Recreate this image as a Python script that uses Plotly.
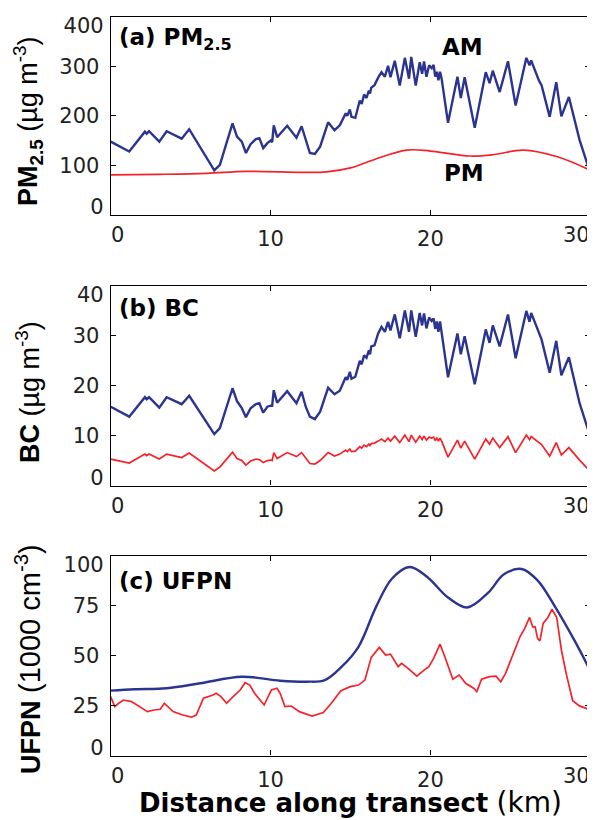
import plotly.graph_objects as go

# ---------------- data ----------------
transect_km = [0, 1.16, 2.14, 2.25, 2.4, 3.04, 3.5, 4.44, 4.91, 6.48, 6.83, 7.62, 7.9, 8.2, 8.46, 8.75,
               9.08, 9.3, 9.54, 9.8, 10.0, 10.1, 10.2, 10.41, 11.04, 11.62, 11.94, 12.2, 12.46, 12.77,
               13.1, 13.6, 14.0, 14.33, 14.7, 14.8, 14.96, 15.06, 15.3, 15.58, 15.7, 15.85, 16.0, 16.15,
               16.22, 16.3, 16.5, 16.73, 16.94, 17.15, 17.35, 17.5, 17.77, 18.08, 18.4, 18.66, 18.8,
               19.08, 19.33, 19.48, 19.6, 19.75, 19.92, 20.08, 20.2, 20.3, 20.4, 20.5, 20.6, 20.7, 21.1,
               21.69, 21.9, 22.14, 22.77, 23.46, 23.7, 23.9, 24.33, 24.85, 25.33, 26.0, 26.2, 26.3,
               26.79, 26.95, 27.46, 27.87, 28.19, 28.66, 29.33, 30.0]

pm25_am = [148, 128, 168, 164, 169, 148, 169, 154, 173, 90, 101, 185, 158, 148, 125, 143,
           153, 155, 135, 145, 150, 147, 181, 157, 180, 156, 179, 151, 125, 123,
           138, 187, 171, 181, 205, 200, 213, 198, 196, 231, 224, 243, 236, 251,
           245, 257, 262, 277, 288, 279, 301, 278, 311, 261, 317, 275, 319,
           261, 308, 285, 310, 279, 302, 296, 303, 279, 289, 272, 289, 275, 186,
           279, 236, 278, 176, 288, 266, 291, 248, 310, 221, 317, 302, 312,
           271, 262, 198, 268, 199, 238, 151, 85]

pm25_pm_km = [0, 3, 6, 8.5, 12, 13.5, 15, 16.5, 18.5, 20, 22.5, 24, 25.8, 28, 30]
pm25_pm = [81, 82, 84, 88, 86, 87, 95, 112, 131, 129, 119, 122, 131, 117, 90]

bc_am = [15.8, 13.8, 17.7, 17.3, 17.7, 15.6, 17.7, 16.3, 18.0, 10.3, 11.5, 19.5, 16.9, 15.5, 13.7, 15.5,
         16.3, 16.5, 14.6, 15.8, 16.0, 16.0, 19.1, 16.6, 18.9, 16.5, 18.8, 15.8, 13.8, 13.3,
         14.8, 19.6, 18.3, 19.0, 21.7, 21.2, 22.8, 21.4, 21.8, 25.0, 24.3, 26.1, 25.6, 27.1,
         26.3, 27.9, 28.1, 30.5, 31.8, 30.8, 32.8, 31.1, 34.3, 29.5, 35.1, 30.8, 35.1,
         29.8, 34.6, 32.1, 34.5, 31.5, 33.7, 33.0, 33.5, 31.4, 32.9, 30.8, 32.9, 30.8, 21.7,
         30.5, 26.3, 29.9, 20.3, 31.3, 28.6, 32.1, 27.9, 34.3, 25.5, 35.0, 32.8, 34.6,
         30.6, 29.3, 22.6, 29.0, 22.1, 25.7, 16.5, 9.8]

bc_pm = [5.3, 4.5, 6.3, 6.0, 6.3, 5.3, 6.3, 5.6, 6.5, 2.9, 3.7, 6.7, 5.4, 5.0, 4.1, 4.9,
         5.3, 5.2, 4.6, 5.0, 5.1, 5.0, 6.6, 5.4, 6.6, 5.8, 6.6, 5.5, 4.4, 4.3,
         5.0, 6.6, 5.9, 6.3, 7.1, 6.8, 7.3, 6.8, 6.9, 7.8, 7.5, 8.1, 7.8, 8.3,
         8.0, 8.4, 8.5, 8.9, 9.3, 8.8, 9.5, 8.9, 9.9, 8.6, 10.1, 8.8, 10.1,
         8.7, 9.9, 9.2, 9.9, 9.1, 9.7, 9.5, 9.7, 9.0, 9.5, 8.9, 9.5, 8.9, 5.7,
         9.1, 7.5, 8.9, 5.3, 9.3, 8.3, 9.5, 7.6, 9.8, 6.6, 10.1, 9.2, 9.8,
         8.6, 8.2, 5.9, 8.6, 6.1, 7.6, 5.1, 2.8]

ufpn_am_km = [0, 1.5, 3.5, 5.6, 8.2, 10.6, 12.3, 13.4, 14.45, 15.5, 16.6, 17.6, 18.7, 19.8, 21.1,
              22.3, 23.6, 24.6, 25.7, 26.7, 27.8, 29.0, 30.0]
ufpn_am = [32.5, 33.2, 33.7, 36.2, 39.5, 37.5, 37.0, 37.8, 44.5, 54.5, 74.5, 88.7, 94.5, 89.5, 79.2,
           74.2, 81.5, 90.8, 93.5, 87.8, 74.5, 57.8, 42.5]

ufpn_pm_km = [0, 0.25, 0.5, 0.8, 1.3, 1.83, 2.3, 2.7, 3.1, 3.35, 3.6, 3.9, 4.5, 5.06, 5.35, 5.8, 6.4,
              6.6, 6.9, 7.25, 7.66, 8.1, 8.4, 8.7, 9.0, 9.33, 9.6, 9.8, 10.05, 10.4, 10.6, 10.9,
              11.3, 11.8, 12.6, 13.3, 13.8, 14.4, 15.0, 15.5, 15.9, 16.3, 16.8, 17.2, 17.5, 17.98,
              18.2, 18.6, 19.15, 19.6, 19.9, 20.2, 20.6, 20.9, 21.4, 21.8, 22.2, 22.7, 22.9, 23.2,
              23.7, 24.1, 24.4, 24.7, 25.1, 25.6, 25.9, 26.2, 26.4, 26.55, 26.7, 26.85, 27.05,
              27.35, 27.6, 27.9, 28.2, 28.5, 28.9, 29.3, 30.0]
ufpn_pm = [29.5, 24.5, 26.2, 27.8, 27.0, 24.5, 22.0, 22.8, 23.2, 26.2, 24.5, 22.0, 20.3, 19.2, 20.3,
           28.7, 30.3, 31.2, 29.5, 26.2, 29.5, 32.8, 36.5, 35.3, 31.2, 27.8, 25.3, 28.7, 32.8,
           33.7, 31.2, 24.5, 24.8, 22.0, 19.8, 21.5, 26.2, 32.5, 34.5, 35.3, 37.8, 49.2, 54.2,
           50.3, 50.8, 44.5, 46.2, 43.7, 39.8, 42.8, 44.5, 48.7, 55.8, 49.5, 38.2, 40.3, 36.2,
           33.7, 32.0, 38.2, 39.5, 39.8, 37.0, 41.2, 49.5, 59.5, 63.7, 69.2, 64.5, 64.5, 58.7,
           57.5, 66.2, 69.2, 73.3, 69.2, 52.5, 40.8, 27.5, 25.0, 22.8]

x_ticks = [0, 10, 20, 30]
pm25_ticks = [0, 100, 200, 300, 400]
bc_ticks = [0, 10, 20, 30, 40]
ufpn_ticks = [0, 25, 50, 75, 100]

# ---------------- style ----------------
# the page body adds an 8 px offset, so the figure is drawn 8 px smaller and
# all pixel positions (measured on the 595x820 reference) are shifted by 8 px
OFF = 8
W, H = 595 - OFF, 820 - OFF
BLUE = "#2b3590"
RED = "#f5222a"
TICKFONT = dict(family="DejaVu Sans", size=21, color="#222222")

X_LEFT_PX, X_RIGHT_PX = 110.7, 590.3


def px_x(p):
    return (p - OFF) / W


def px_y(p):
    return 1 - (p - OFF) / H


X_DOM = [px_x(X_LEFT_PX), px_x(X_RIGHT_PX)]
Y_DOMS = [[px_y(215), px_y(16.7)], [px_y(485.5), px_y(286)], [px_y(755.5), px_y(556)]]
PX_PER_KM = (X_RIGHT_PX - X_LEFT_PX) / (x_ticks[-1] - x_ticks[0])

fig = go.Figure()

fig.add_trace(go.Scatter(x=transect_km, y=pm25_am, mode="lines", line=dict(color=BLUE, width=2.4),
                         xaxis="x", yaxis="y", showlegend=False))
fig.add_trace(go.Scatter(x=pm25_pm_km, y=pm25_pm, mode="lines", line=dict(color=RED, width=1.7, shape="spline"),
                         xaxis="x", yaxis="y", showlegend=False))
fig.add_trace(go.Scatter(x=transect_km, y=bc_am, mode="lines", line=dict(color=BLUE, width=2.4),
                         xaxis="x2", yaxis="y2", showlegend=False))
fig.add_trace(go.Scatter(x=transect_km, y=bc_pm, mode="lines", line=dict(color=RED, width=1.7),
                         xaxis="x2", yaxis="y2", showlegend=False))
fig.add_trace(go.Scatter(x=ufpn_am_km, y=ufpn_am, mode="lines", line=dict(color=BLUE, width=2.4, shape="spline"),
                         xaxis="x3", yaxis="y3", showlegend=False))
fig.add_trace(go.Scatter(x=ufpn_pm_km, y=ufpn_pm, mode="lines", line=dict(color=RED, width=1.7),
                         xaxis="x3", yaxis="y3", showlegend=False))

common_axis = dict(showline=True, linecolor="black", linewidth=1.2, mirror="ticks", ticks="inside",
                   ticklen=5, tickwidth=1, tickcolor="black", showgrid=False, zeroline=False,
                   tickfont=TICKFONT, automargin=False, ticklabeloverflow="allow")
# label-only overlay axes: the end labels are nudged inward like in the reference
label_axis = dict(showline=False, ticks="", showgrid=False, zeroline=False, tickfont=TICKFONT,
                  automargin=False, ticklabeloverflow="allow")

layout = dict(width=W, height=H, margin=dict(l=0, r=0, t=0, b=0, autoexpand=False),
              paper_bgcolor="white", plot_bgcolor="white", showlegend=False)


def anchor_trace(xname, yname, xv, yv):
    # invisible point so that the overlay axis gets a subplot and is drawn
    return go.Scatter(x=[xv], y=[yv], xaxis=xname, yaxis=yname, mode="markers",
                      marker=dict(opacity=0, size=1), hoverinfo="skip", showlegend=False)


yticks_all = [pm25_ticks, bc_ticks, ufpn_ticks]
extra = 4
for i in range(3):
    sfx = "" if i == 0 else str(i + 1)
    xa, ya = "x" + sfx, "y" + sfx
    yt = yticks_all[i]
    xr, yr = [x_ticks[0], x_ticks[-1]], [yt[0], yt[-1]]
    layout["xaxis" + sfx] = dict(common_axis, domain=X_DOM, anchor=ya, range=xr,
                                 tickvals=x_ticks[1:-1], ticklabelstandoff=5)
    layout["yaxis" + sfx] = dict(common_axis, domain=Y_DOMS[i], anchor=xa, range=yr,
                                 tickvals=yt[1:-1], ticklabelstandoff=6)
    # end labels of the distance axis: nudge by offsetting the overlay axis range
    for val, shift_px in [(x_ticks[0], 7), (x_ticks[-1], -14)]:
        d = shift_px / PX_PER_KM
        layout[f"xaxis{extra}"] = dict(label_axis, overlaying=xa, anchor=ya, side="bottom", domain=X_DOM,
                                       range=[xr[0] - d, xr[1] - d], tickvals=[val], ticklabelstandoff=5)
        fig.add_trace(anchor_trace(f"x{extra}", ya, val, yr[0]))
        extra += 1
    for val, shift in [(yt[0], -8), (yt[-1], 9)]:
        layout[f"yaxis{extra}"] = dict(label_axis, overlaying=ya, anchor=xa, side="left", domain=Y_DOMS[i],
                                       range=yr, tickvals=[val], ticklabelshift=shift, ticklabelstandoff=6)
        fig.add_trace(anchor_trace(xa, f"y{extra}", xr[0], val))
        extra += 1

fig.update_layout(**layout)

BOLD = "DejaVu Sans"
anns = [
    # panel labels
    dict(text="<b>(a) PM<sub>2.5</sub></b>", x=px_x(117), y=px_y(39), xanchor="left", yanchor="middle",
         font=dict(family=BOLD, size=23, color="black")),
    dict(text="<b>(b) BC</b>", x=px_x(117), y=px_y(308), xanchor="left", yanchor="middle",
         font=dict(family=BOLD, size=23, color="black")),
    dict(text="<b>(c) UFPN</b>", x=px_x(117), y=px_y(581), xanchor="left", yanchor="middle",
         font=dict(family=BOLD, size=23, color="black")),
    # AM / PM
    dict(text="<b>AM</b>", x=px_x(462), y=px_y(47), xanchor="center", yanchor="middle",
         font=dict(family=BOLD, size=23, color="black")),
    dict(text="<b>PM</b>", x=px_x(464), y=px_y(173), xanchor="center", yanchor="middle",
         font=dict(family=BOLD, size=23, color="black")),
    # y titles
    dict(text="<b>PM<sub>2.5</sub></b> (µg m<sup>-3</sup>)", x=px_x(28), y=px_y(121), textangle=-90,
         xanchor="center", yanchor="middle", font=dict(family="Liberation Sans", size=27, color="black")),
    dict(text="<b>BC</b> (µg m<sup>-3</sup>)", x=px_x(28), y=px_y(392), textangle=-90,
         xanchor="center", yanchor="middle", font=dict(family="Liberation Sans", size=27, color="black")),
    dict(text="<b>UFPN</b> <span style='font-size:29px'>(1000 cm<sup>-3</sup>)</span>", x=px_x(28),
         y=px_y(659), textangle=-90, xanchor="center", yanchor="middle",
         font=dict(family="Liberation Sans", size=27, color="black")),
    # x title
    dict(text="<b>Distance along transect</b> <span style='font-size:28px'>(km)</span>", x=px_x(350),
         y=px_y(802), xanchor="center", yanchor="middle",
         font=dict(family="DejaVu Sans", size=26, color="black")),
]
for a in anns:
    a.update(xref="paper", yref="paper", showarrow=False)
fig.update_layout(annotations=anns)

fig.write_html("out.html")
